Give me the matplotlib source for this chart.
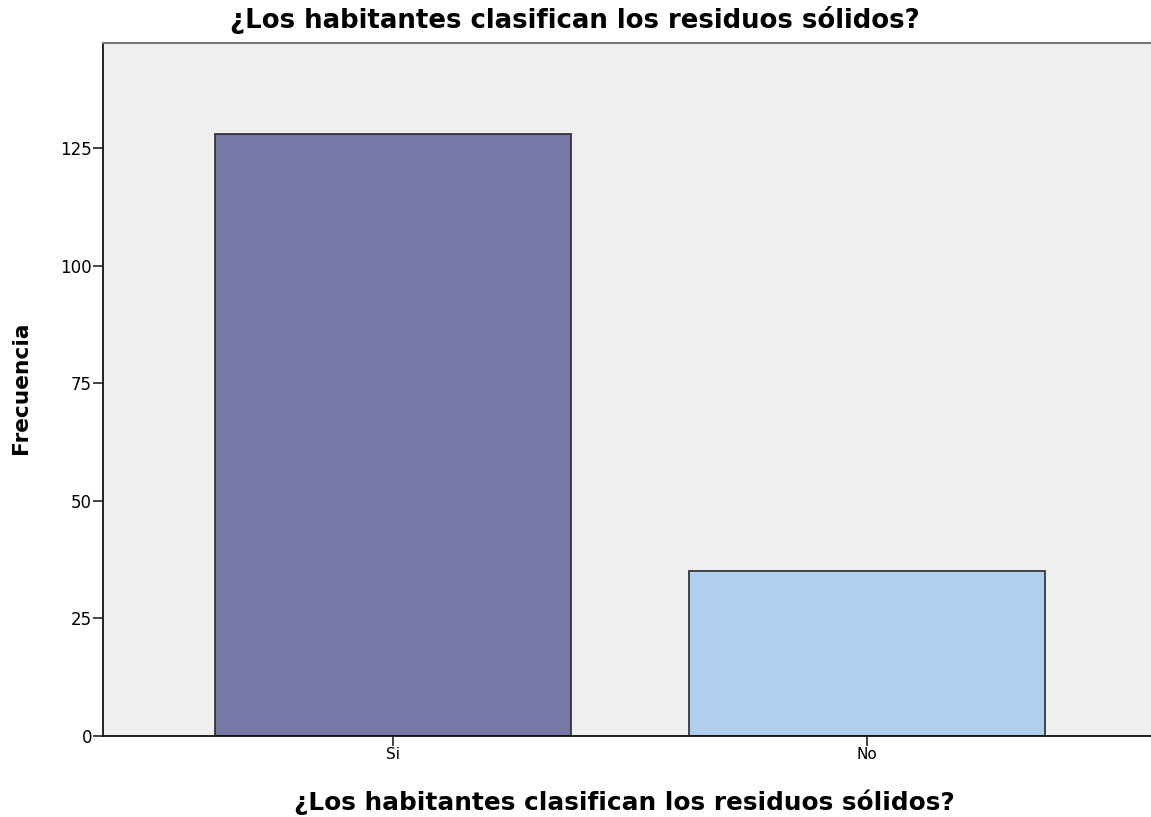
import numpy as np
import matplotlib
matplotlib.use("Agg")
import matplotlib.pyplot as plt

plt.rcParams['font.family'] = ['DejaVu Sans']

# data
categories = ['Si', 'No']
counts = [128, 35]
bar_colors = ['#7878a6', '#aed0ee']
y_ticks = [0, 25, 50, 75, 100, 125]
title = '¿Los habitantes clasifican los residuos sólidos?'

W, H = 1151, 817
fig = plt.figure(figsize=(W / 100, H / 100), dpi=100)

# axes: left spine at x=103, bottom at y=736, top at y=43; runs past the right edge
left, right, top, bottom = 103, 1158, 43, 736
ax = fig.add_axes([left / W, (H - bottom) / H, (right - left) / W, (bottom - top) / H])
ax.set_facecolor('#efefef')

x = np.arange(len(categories))
ax.bar(x, counts, width=0.751, color=bar_colors, edgecolor='#2a2a2a', linewidth=1.2, zorder=2)

ax.set_xlim(-0.612, 1.613)
ax.set_ylim(0, 147.3)
ax.set_xticks(x)
ax.set_xticklabels(categories, fontsize=11)
ax.set_yticks(y_ticks)
ax.set_yticklabels([str(v) for v in y_ticks], fontsize=12)
ax.tick_params(axis='both', direction='out', length=7, width=1.2, color='#222222', pad=1)

for s in ['left', 'bottom']:
    ax.spines[s].set_color('#111111')
    ax.spines[s].set_linewidth(1.3)
ax.spines['top'].set_color('#777777')
ax.spines['top'].set_linewidth(1.5)
ax.spines['right'].set_visible(False)

renderer = fig.canvas.get_renderer()


def fit_text(t, target_px, length_axis='w'):
    # scale font size so the rendered text spans target_px
    bb = t.get_window_extent(renderer=renderer)
    size = bb.width if length_axis == 'w' else bb.height
    t.set_fontsize(t.get_fontsize() * target_px / size)


t1 = fig.text(575 / W, 1 - 20 / H, title, ha='center', va='center',
              fontsize=14, fontweight='bold')
fit_text(t1, 694)
t2 = fig.text(624 / W, 1 - 802 / H, title, ha='center', va='center',
              fontsize=14, fontweight='bold')
fit_text(t2, 658)
t3 = fig.text(21 / W, 1 - 388 / H, 'Frecuencia', rotation=90,
              ha='center', va='center', fontsize=14, fontweight='bold')
fit_text(t3, 133, 'h')

fig.savefig('out.png', dpi=100)
